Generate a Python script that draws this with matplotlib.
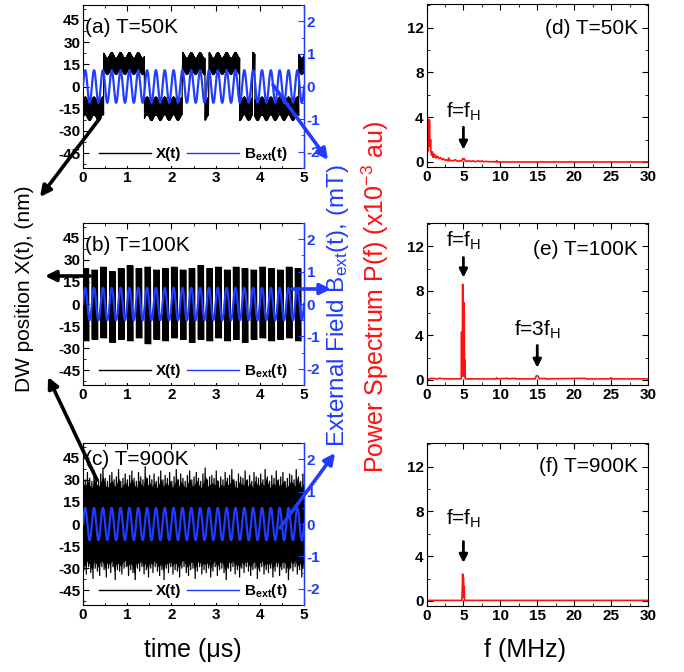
import numpy as np
import matplotlib
matplotlib.use('Agg')
import matplotlib.pyplot as plt
from matplotlib.patches import FancyArrowPatch
from matplotlib.lines import Line2D
from matplotlib.ticker import MultipleLocator

plt.rcParams['font.family'] = ['Liberation Sans', 'DejaVu Sans']
plt.rcParams['mathtext.fontset'] = 'custom'
plt.rcParams['mathtext.rm'] = 'Liberation Sans'
plt.rcParams['mathtext.it'] = 'Liberation Sans'
plt.rcParams['mathtext.bf'] = 'Liberation Sans:bold'

# ---------------- data ----------------
time_ticks = [0, 1, 2, 3, 4, 5]
x_ticks = [-45, -30, -15, 0, 15, 30, 45]
b_ticks = [-2, -1, 0, 1, 2]
f_ticks = [0, 5, 10, 15, 20, 25, 30]
p_ticks = [0, 4, 8, 12]

panel_left_labels = ['(a) T=50K', '(b) T=100K', '(c) T=900K']
panel_right_labels = ['(d) T=50K', '(e) T=100K', '(f) T=900K']

field_amp = 0.5     # mT
field_freq = 5.0    # MHz

# (a) T=50K : bistable switching of the wall
a_switch_times = [0.0, 0.47, 1.39, 2.25, 2.76, 2.85, 3.55, 3.83, 3.89, 4.88, 5.0]
a_states = [-1, 1, -1, 1, -1, 1, -1, 1, -1, 1]
a_high_band = [10.0, 21.0]
a_low_band = [-21.0, -9.0]
a_ripple = 2.0

# (b) T=100K : one burst per field period
b_top = [24, 23, 25, 22, 24, 26, 24, 25, 23, 24, 25, 23, 24, 26, 24,
         25, 23, 25, 24, 23, 25, 24, 23, 25, 24]
b_bottom = [-25, -24, -23, -26, -24, -25, -23, -27, -24, -25, -23, -24, -26,
            -24, -25, -23, -25, -24, -26, -24, -23, -25, -24, -23, -25]

# (c) T=900K : noisy envelope (upper / lower extremes)
c_upper = [33, 30, 35, 31, 29, 36, 32, 30, 34, 38, 31, 29, 33, 35, 30, 32, 37, 29, 31, 34,
           30, 33, 36, 31, 29, 35, 32, 30, 39, 31, 33, 30, 34, 29, 32, 36, 30, 33, 31, 35,
           29, 32, 37, 30, 34, 31, 29, 33, 36, 30, 32, 35, 31, 29, 34, 38, 30, 32, 33, 31,
           36, 29, 32, 30, 35, 31, 33, 37, 30, 29, 34, 32, 31, 36, 30, 33, 29, 35, 32, 31,
           34, 30, 37, 32, 29, 33, 31, 36, 30, 32, 35, 29, 31, 34, 33, 30, 37, 32, 29, 34]
c_lower = [-31, -34, -29, -33, -37, -30, -32, -35, -29, -31, -36, -30, -33, -29, -38, -31, -32, -34, -30, -29,
           -35, -31, -33, -40, -30, -32, -29, -34, -31, -36, -30, -33, -29, -32, -35, -31, -38, -30, -33, -29,
           -34, -31, -32, -36, -30, -29, -33, -35, -31, -30, -37, -32, -29, -34, -31, -33, -30, -36, -32, -29,
           -35, -31, -30, -33, -39, -30, -32, -29, -34, -31, -36, -30, -33, -29, -32, -35, -31, -30, -37, -32,
           -29, -34, -31, -33, -30, -36, -32, -29, -35, -31, -30, -33, -38, -30, -32, -29, -34, -31, -36, -30]

# power spectra (x10^-3 au)
d_freq = [0.0, 0.1, 0.2, 0.25, 0.3, 0.35, 0.4, 0.45, 0.5, 0.55, 0.6, 0.7, 0.8, 0.9, 1.0, 1.1, 1.2, 1.3,
          1.5, 1.7, 1.9, 2.1, 2.3, 2.5, 2.7, 2.9, 3.0, 3.1, 3.3, 3.6, 3.9, 4.2, 4.5, 4.8, 4.9, 5.0, 5.1,
          5.3, 5.7, 6.0, 6.3, 6.6, 7.0, 7.3, 7.5, 7.7, 8.0, 8.5, 9.0, 9.4, 9.5, 9.6, 10.0, 30.0]
d_power = [0.6, 0.9, 2.8, 1.0, 3.8, 1.8, 3.7, 2.2, 1.4, 2.0, 0.9, 0.6, 0.9, 0.4, 0.7, 0.45, 0.6, 0.35,
           0.5, 0.3, 0.4, 0.2, 0.3, 0.15, 0.2, 0.1, 0.35, 0.1, 0.15, 0.1, 0.2, 0.05, 0.1, 0.1, 0.3, 0.25, 0.3,
           0.05, 0.1, 0.05, 0.1, 0.02, 0.1, 0.02, 0.1, 0.02, 0.05, 0.02, 0.03, 0.0, 0.12, 0.0, 0.0, 0.0]
e_freq = [0.0, 0.5, 0.7, 1.5, 1.7, 2.5, 4.7, 4.75, 4.8, 4.85, 4.9, 4.95, 5.0, 5.05, 5.1, 5.15, 5.2,
          5.25, 5.3, 9.4, 9.5, 9.6, 11.0, 11.1, 12.0, 12.1, 14.7, 14.85, 15.0, 15.15, 15.3, 16.0, 16.1,
          21.5, 21.6, 24.8, 25.0, 25.2, 30.0]
e_power = [0.1, 0.1, 0.15, 0.1, 0.15, 0.1, 0.1, 4.3, 0.3, 2.0, 8.6, 2.4, 7.0, 0.4, 6.9, 0.3, 1.8,
           0.2, 0.1, 0.1, 0.2, 0.1, 0.15, 0.1, 0.15, 0.1, 0.1, 0.35, 0.4, 0.3, 0.1, 0.15, 0.1,
           0.15, 0.1, 0.1, 0.2, 0.1, 0.1]
f_freq = [0.0, 4.8, 4.85, 4.9, 4.95, 5.0, 5.05, 5.1, 5.15, 5.2, 30.0]
f_power = [0.05, 0.05, 1.2, 2.4, 0.8, 2.1, 0.3, 1.3, 0.1, 0.05, 0.05]

# harmonic annotations: (panel, frequency, text y, arrow start, arrow end, label)
peak_notes = [
    (0, 5.0, 4.5, 3.1, 1.1, r'f=f$_\mathregular{H}$'),
    (1, 5.0, 12.5, 11.0, 9.2, r'f=f$_\mathregular{H}$'),
    (1, 15.0, 4.5, 3.1, 1.1, r'f=3f$_\mathregular{H}$'),
    (2, 5.0, 7.3, 5.3, 3.4, r'f=f$_\mathregular{H}$'),
]

# ---------------- style ----------------
BLUE = '#1f3cff'
RED = '#ff1010'
W, H = 684, 672

fig = plt.figure(figsize=(W / 100, H / 100), dpi=100)


def px_box(x0, y0, x1, y1):
    return [x0 / W, 1 - y1 / H, (x1 - x0) / W, (y1 - y0) / H]


left_rows = [(5, 168), (223, 385), (443, 605)]
right_rows = [(4, 167), (223, 385), (443, 606)]

tick_kw = dict(fontsize=11, fontweight='bold')

# field signal
tf = np.linspace(0, 5, 1501)
bf = field_amp * np.sin(2 * np.pi * field_freq * tf)

# X(t) signals
# (a)
ta = np.linspace(0, 5, 701)
idx = np.clip(np.searchsorted(a_switch_times, ta, side='right') - 1, 0, len(a_states) - 1)
st = np.array(a_states)[idx]
hi = np.where(st > 0, a_high_band[1], a_low_band[1])
lo = np.where(st > 0, a_high_band[0], a_low_band[0])
rip = a_ripple * np.sin(2 * np.pi * field_freq * ta)
xa = np.where(np.arange(ta.size) % 2 == 0, hi, lo) + rip

# (b)
tb_list, xb_list = [], []
for k in range(len(b_top)):
    t0 = k / field_freq
    tt = np.linspace(t0, t0 + 0.135, 16)
    xx = np.where(np.arange(tt.size) % 2 == 0, b_top[k], b_bottom[k]).astype(float)
    tb_list += list(tt) + [np.nan]
    xb_list += list(xx) + [np.nan]
tb = np.array(tb_list)
xb = np.array(xb_list)

# (c)
tc = np.linspace(0, 5, 2 * len(c_upper))
xc = np.empty(tc.size)
xc[0::2] = c_upper
xc[1::2] = c_lower
tc_env = np.linspace(0, 5, len(c_upper))

signals = [(ta, xa, 0.9), (tb, xb, 0.8), (tc, xc, 0.9)]
label_y = [40, 40, 44]

for i, (y0, y1) in enumerate(left_rows):
    ax = fig.add_axes(px_box(83, y0, 304, y1))
    t, x, lw = signals[i]
    if i == 2:
        ax.fill_between(tc_env, np.array(c_lower) * 0.85, np.array(c_upper) * 0.85,
                        color='black', lw=0)
    ax.plot(t, x, color='black', lw=lw)
    ax.set_xlim(0, 5)
    ax.set_ylim(-55, 55)
    ax.set_xticks(time_ticks, [str(v) for v in time_ticks], **tick_kw)
    ax.set_yticks(x_ticks, [str(v) for v in x_ticks], **tick_kw)
    ax.xaxis.set_minor_locator(MultipleLocator(0.5))
    ax.yaxis.set_minor_locator(MultipleLocator(7.5))
    ax.tick_params(which='both', direction='in', top=True, right=False, pad=2)
    ax.tick_params(which='major', length=4)
    ax.tick_params(which='minor', length=2)
    for s in ax.spines.values():
        s.set_linewidth(0.8)
    ax.text(0.05, label_y[i], panel_left_labels[i], fontsize=15, ha='left', va='center')

    ax2 = ax.twinx()
    ax2.plot(tf, bf, color=BLUE, lw=1.6)
    ax2.set_ylim(-2.5, 2.5)
    ax2.set_yticks(b_ticks, [str(v) for v in b_ticks], **tick_kw)
    ax2.yaxis.set_minor_locator(MultipleLocator(0.5))
    ax2.tick_params(which='both', direction='in', colors=BLUE, pad=2)
    ax2.tick_params(which='major', length=4)
    ax2.tick_params(which='minor', length=2)
    ax2.spines['right'].set_color(BLUE)
    ax2.spines['right'].set_linewidth(1.0)
    for nm in ('left', 'top', 'bottom'):
        ax2.spines[nm].set_visible(False)
    handles = [Line2D([], [], color='black', lw=1.0), Line2D([], [], color=BLUE, lw=1.0)]
    leg = ax2.legend(handles, ['X(t)', r'B$_\mathbf{ext}$(t)'], loc='lower center',
                     ncol=2, frameon=True, handlelength=3.4,
                     handletextpad=0.3, columnspacing=0.4, borderaxespad=0.15,
                     borderpad=0.15, prop={'weight': 'bold', 'size': 11})
    leg.get_frame().set_edgecolor('none')
    leg.get_frame().set_facecolor('white')
    leg.get_frame().set_alpha(1.0)

spectra = [(d_freq, d_power), (e_freq, e_power), (f_freq, f_power)]
rlabel_y = [11.9, 11.7, 12.0]
for i, (y0, y1) in enumerate(right_rows):
    ax = fig.add_axes(px_box(426.5, y0, 648, y1))
    fr, pw = spectra[i]
    ax.plot(fr, pw, color=RED, lw=1.2)
    ax.set_xlim(0, 30)
    ax.set_ylim(-0.45, 14.1)
    ax.set_xticks(f_ticks, [str(v) for v in f_ticks], **tick_kw)
    ax.set_yticks(p_ticks, [str(v) for v in p_ticks], **tick_kw)
    ax.xaxis.set_minor_locator(MultipleLocator(2.5))
    ax.yaxis.set_minor_locator(MultipleLocator(2))
    ax.tick_params(which='both', direction='in', top=True, right=True, pad=2)
    ax.tick_params(which='major', length=4)
    ax.tick_params(which='minor', length=2)
    for s in ax.spines.values():
        s.set_linewidth(0.8)
    ax.text(28.6, rlabel_y[i], panel_right_labels[i], fontsize=15, ha='right', va='center')
    for (p, fx, ty, ya, yb, lab) in peak_notes:
        if p == i:
            ax.text(fx, ty, lab, fontsize=15, ha='center', va='center')
            ax.annotate('', xy=(fx, yb), xytext=(fx, ya),
                        arrowprops=dict(arrowstyle='-|>', color='black', lw=2.0,
                                        mutation_scale=12, shrinkA=0, shrinkB=0))

# big arrows linking panels to axis labels (figure pixel coordinates)
big_arrows = [
    ((100, 118), (40, 197), 'black'),
    ((273, 85), (328, 160), BLUE),
    ((90, 276), (45, 276), 'black'),
    ((292, 289), (331, 289), BLUE),
    ((97, 480), (48, 377), 'black'),
    ((280, 528), (335, 453), BLUE),
]
for (xa0, ya0), (xa1, ya1), c in big_arrows:
    arr = FancyArrowPatch((xa0 / W, 1 - ya0 / H), (xa1 / W, 1 - ya1 / H),
                          transform=fig.transFigure, arrowstyle='-|>',
                          mutation_scale=16, lw=2.6, color=c,
                          shrinkA=0, shrinkB=0)
    fig.add_artist(arr)

fig.text(25 / W, 1 - 289 / H, 'DW position X(t), (nm)', rotation=90,
         fontsize=15, ha='center', va='center', color='black')
fig.text(338 / W, 1 - 306 / H, r'External Field B$_\mathregular{ext}$(t), (mT)', rotation=90,
         fontsize=17.5, ha='center', va='center', color=BLUE)
fig.text(375 / W, 1 - 297 / H, r'Power Spectrum P(f) (x10$^\mathregular{-3}$ au)', rotation=90,
         fontsize=18, ha='center', va='center', color=RED)
fig.text(193 / W, 1 - 650 / H, 'time (\u03bcs)', fontsize=18, ha='center', va='center')
fig.text(525 / W, 1 - 650 / H, 'f (MHz)', fontsize=18, ha='center', va='center')

fig.savefig('out.png', dpi=100, facecolor='white')
